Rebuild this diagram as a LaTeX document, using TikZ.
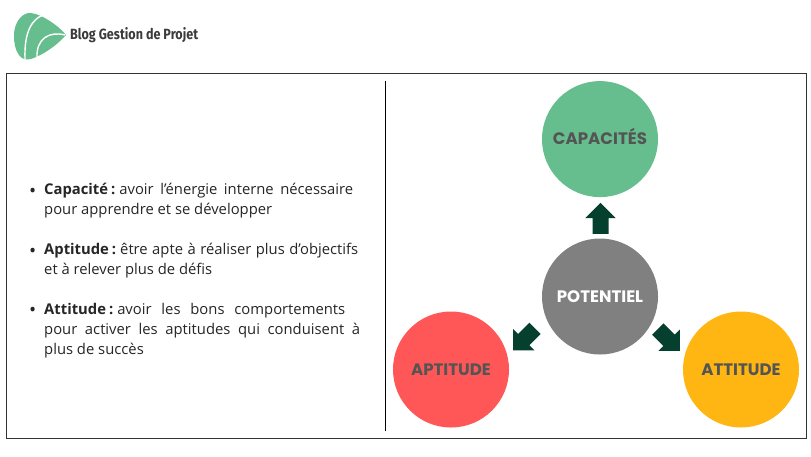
\documentclass[tikz,border=0pt]{standalone}
\usepackage{fontspec}
\usepackage{xcolor}
\setmainfont{Open Sans}
\newfontfamily\labelfont{Poppins}
\newfontfamily\blogfont[FakeStretch=0.85]{Fira Sans}
\usetikzlibrary{arrows.meta,positioning,shapes.arrows}
\definecolor{soigreen}{HTML}{66BE8E}
\definecolor{soired}{HTML}{FF5757}
\definecolor{soiyellow}{HTML}{FFB612}
\definecolor{soigray}{HTML}{808080}
\definecolor{soidark}{HTML}{05402F}
\definecolor{soitext}{HTML}{545454}
\newcommand{\fitline}[2]{\hbox to #1pt{#2}}
\newcommand{\itemdot}{\hbox to 0pt{\hss\raisebox{-2.5pt}{\fontsize{19}{19}\selectfont\textbullet}\hskip 8pt}}
\newcommand{\itemhead}[1]{\textbf{#1\hskip 3pt:}\hskip 4pt}

\begin{document}
\begin{tikzpicture}[x=1pt,y=-1pt,node distance=41pt]
  \tikzstyle{pot}=[circle, minimum size=116pt, inner sep=0pt, text height=12pt, text depth=0.5pt, font=\labelfont\bfseries\fontsize{16.6}{18}\selectfont, text=soitext]
  \tikzstyle{blockarrow}=[single arrow, fill=soidark, inner xsep=0pt, inner ysep=7.8pt, minimum height=31pt, minimum width=30pt, single arrow head extend=7.2pt, single arrow tip angle=90, anchor=center]
  \tikzstyle{item}=[anchor=north west, inner sep=0pt, align=left, text=black!85, font=\fontsize{14.8}{20}\selectfont]
  \useasboundingbox (0,0) rectangle (811,456);
  \fill[white] (0,0) rectangle (811,456);
  % logo
  \fill[soigreen] (14,36) .. controls (14,20) and (24,12) .. (31,13) .. controls (42,14) and (60,27) .. (66,35) .. controls (60,42) and (48,52) .. (36,57) .. controls (28,61) and (22,60) .. (19,55) .. controls (15,50) and (14,42) .. (14,36) -- cycle;
  \draw[white, line width=1.4pt] (43,15) .. controls (33,19) and (24,30) .. (25,59);
  \draw[white, line width=1.4pt] (65,35) .. controls (50,31) and (36,38) .. (37,58);
  \node[anchor=west, inner sep=0pt, text=soitext!70!black, font=\blogfont\bfseries\fontsize{14.8}{16}\selectfont] (blog) at (70,35) {Blog Gestion de Projet};
  % frame
  \draw[black!80, line width=0.9pt] (6,73) rectangle (806,438);
  \coordinate (septop) at (385.7,81);
  \coordinate (sepbot) at (385.7,431);
  \draw[black, line width=0.9pt] (septop) -- (sepbot);
  % text
  \node[item] (capa) at (44,183) {\itemdot\fitline{309}{\itemhead{Capacité}avoir l’énergie interne nécessaire}\\pour apprendre et se développer};
  \node[item] (apti) at (44,243) {\itemdot\fitline{314}{\itemhead{Aptitude}être apte à réaliser plus d’objectifs}\\et à relever plus de défis};
  \node[item] (atti) at (44,303) {\itemdot\fitline{301}{\itemhead{Attitude}avoir les bons comportements}\\\fitline{316}{pour activer les aptitudes qui conduisent à}\\plus de succès};
  % circles
  \node[pot, fill=soigray, text=white] (potentiel) at (600,296.5) {POTENTIEL};
  \node[pot, fill=soigreen, above=of potentiel] (capacites) {CAPACITÉS};
  \node[pot, fill=soired] (aptitude) at (451,369.5) {APTITUDE};
  \node[pot, fill=soiyellow] (attitude) at (741,369.5) {ATTITUDE};
  % arrows
  \node[blockarrow, rotate=90] (toup) at (600.5,222.3) {};
  \node[blockarrow, rotate=225] (toleft) at (526.8,336.5) {};
  \node[blockarrow, rotate=-45] (toright) at (666,337.2) {};
\end{tikzpicture}
\end{document}
